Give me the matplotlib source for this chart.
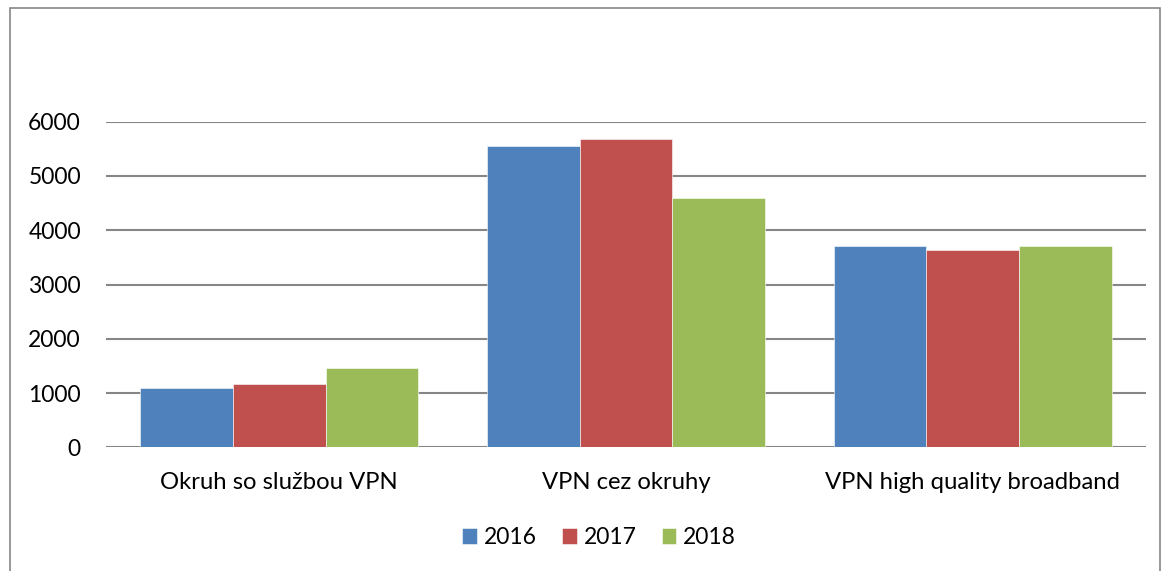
import matplotlib
matplotlib.use("Agg")
import matplotlib.pyplot as plt
import numpy as np
from matplotlib.patches import Rectangle

categories = ["Okruh so službou VPN", "VPN cez okruhy", "VPN high quality broadband"]
series_names = ["2016", "2017", "2018"]
values_2016 = [1100, 5555, 3713]
values_2017 = [1160, 5672, 3639]
values_2018 = [1466, 4597, 3702]
colors = ["#4F81BD", "#C0504D", "#9BBB59"]
yticks = [0, 1000, 2000, 3000, 4000, 5000, 6000]

plt.rcParams['font.family'] = ['Lato', 'DejaVu Sans']

fig = plt.figure(figsize=(11.63, 5.71), dpi=100)
ax = fig.add_axes([0.0911, 0.2166, 0.8943, 0.5703])

x = np.arange(len(categories))
w = 0.267
for i, (vals, name, c) in enumerate(zip([values_2016, values_2017, values_2018], series_names, colors)):
    ax.bar(x + (i - 1) * w, vals, width=w, color=c, label=name, zorder=3,
           edgecolor='white', linewidth=0.4)

ax.set_xlim(-0.5, 2.5)
ax.set_ylim(0, 6000)
ax.set_yticks(yticks)
ax.set_yticklabels([str(t) for t in yticks], fontsize=16.5)
ax.set_xticks(x)
ax.set_xticklabels(categories, fontsize=17.2)
ax.tick_params(axis='y', length=0, pad=18)
ax.tick_params(axis='x', length=0, pad=18)
ax.grid(axis='y', color='#868686', linewidth=1.5, zorder=0)
for s in ax.spines.values():
    s.set_visible(False)

leg = fig.legend(loc='center', bbox_to_anchor=(0.515, 0.058), ncol=3, frameon=False,
                 fontsize=16.5, handlelength=0.65, handleheight=0.7, handletextpad=0.3,
                 columnspacing=1.1)

fig.patches.append(Rectangle((10 / 1163, -0.1), (1160 - 10) / 1163, 1.1 - 8 / 571,
                             transform=fig.transFigure, fill=False,
                             edgecolor='#868686', linewidth=1.2, clip_on=False))

fig.savefig("out.png", dpi=100)
